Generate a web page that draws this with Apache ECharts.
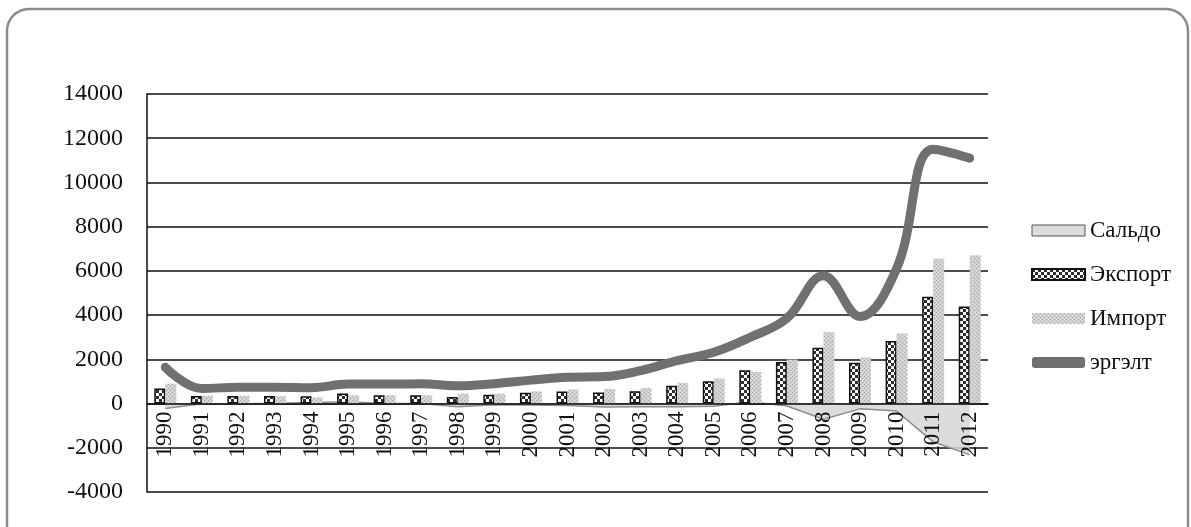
<!DOCTYPE html>
<html><head><meta charset="utf-8">
<script src="https://cdn.jsdelivr.net/npm/echarts@6/dist/echarts.min.js"></script>
<style>html,body{margin:0;padding:0;background:#fff}#c{width:1191px;height:527px}</style>
</head><body><div id="c"></div>
<script>
var years = ['1990','1991','1992','1993','1994','1995','1996','1997','1998','1999','2000','2001','2002','2003','2004','2005','2006','2007','2008','2009','2010','2011','2012'];
var saldo   = [-220,-10,-10,10,50,80,0,0,-150,-50,-60,-90,-160,-150,-140,-120,80,-110,-710,-240,-340,-1730,-2320];
var exportV = [680,340,340,340,330,450,380,380,300,400,490,550,500,560,800,1010,1510,1880,2520,1850,2830,4830,4390];
var importV = [900,350,350,330,280,370,380,380,450,450,550,640,660,710,940,1130,1430,1990,3230,2090,3170,6560,6710];
var turnover= [1640,680,740,740,720,880,880,900,800,900,1060,1190,1220,1490,1940,2320,3000,3850,5780,3940,6100,11500,11100];
var yTicks = {min:-4000, max:14000, interval:2000};

function checker(){
  var c=document.createElement('canvas');c.width=6;c.height=6;var g=c.getContext('2d');
  g.fillStyle='#fff';g.fillRect(0,0,6,6);g.fillStyle='#2e2e2e';g.fillRect(0,0,3,3);g.fillRect(3,3,3,3);return c;
}
function dots(){
  var c=document.createElement('canvas');c.width=4;c.height=4;var g=c.getContext('2d');
  g.fillStyle='#d0d0d0';g.fillRect(0,0,4,4);g.fillStyle='#a5a5a5';g.fillRect(0,0,1,1);g.fillRect(2,2,1,1);
  g.fillStyle='#e4e4e4';g.fillRect(2,0,1,1);g.fillRect(0,2,1,1);return c;
}
var font='"Liberation Serif","DejaVu Serif",serif';
var gridTop=94, gridBottom=35, plotH=527-gridTop-gridBottom;
var zeroOffset=-plotH*(0-yTicks.min)/(yTicks.max-yTicks.min);
var chart=echarts.init(document.getElementById('c'));
chart.setOption({
  animation:false,
  backgroundColor:'#fff',
  graphic:[{type:'rect',shape:{x:7,y:9,width:1181,height:540,r:22},style:{fill:'none',stroke:'#8c8c8c',lineWidth:2.5},z:100}],
  grid:{left:147,right:203,top:gridTop,bottom:gridBottom},
  legend:{orient:'vertical',left:1026,top:214,itemWidth:53,itemHeight:11,itemGap:21,
    textStyle:{fontFamily:font,fontSize:23,color:'#111'},
    data:[
      {name:'Сальдо',icon:'rect',itemStyle:{color:'#dcdcdc',borderColor:'#555',borderWidth:1}},
      {name:'Экспорт',icon:'rect',itemStyle:{color:{image:checker(),repeat:'repeat'},borderColor:'#111',borderWidth:2}},
      {name:'Импорт',icon:'rect',itemStyle:{color:{image:dots(),repeat:'repeat'},borderWidth:0}},
      {name:'эргэлт',icon:'roundRect',itemStyle:{color:'#707070',borderWidth:0}}
    ]},
  xAxis:{type:'category',data:years,boundaryGap:true,offset:zeroOffset,z:5,
    axisLine:{onZero:false,lineStyle:{color:'#111',width:1.5}},
    axisTick:{show:false},
    axisLabel:{rotate:90,margin:8,fontFamily:font,fontSize:23,color:'#111',interval:0}},
  yAxis:{type:'value',min:yTicks.min,max:yTicks.max,interval:yTicks.interval,
    axisLine:{show:true,lineStyle:{color:'#111',width:1.5}},
    axisTick:{show:false},
    axisLabel:{margin:24,fontFamily:font,fontSize:24,color:'#111',formatter:function(v){return String(v);}},
    splitLine:{lineStyle:{color:'#111',width:1.5}}},
  series:[
    {name:'Сальдо',type:'line',data:saldo,symbol:'none',z:1,
      lineStyle:{color:'#8f8f8f',width:1.5},
      areaStyle:{color:'#d6d6d6',opacity:0.85}},
    {name:'Экспорт',type:'bar',data:exportV,barWidth:11,barGap:'0%',z:2,
      itemStyle:{color:{image:checker(),repeat:'repeat'},borderColor:'#111',borderWidth:1.5}},
    {name:'Импорт',type:'bar',data:importV,barWidth:11,barGap:'0%',z:2,
      itemStyle:{color:{image:dots(),repeat:'repeat'}}},
    {name:'эргэлт',type:'line',data:turnover,symbol:'none',smooth:0.4,z:3,
      lineStyle:{color:'#707070',width:9,cap:'round'}}
  ]
});
</script></body></html>
